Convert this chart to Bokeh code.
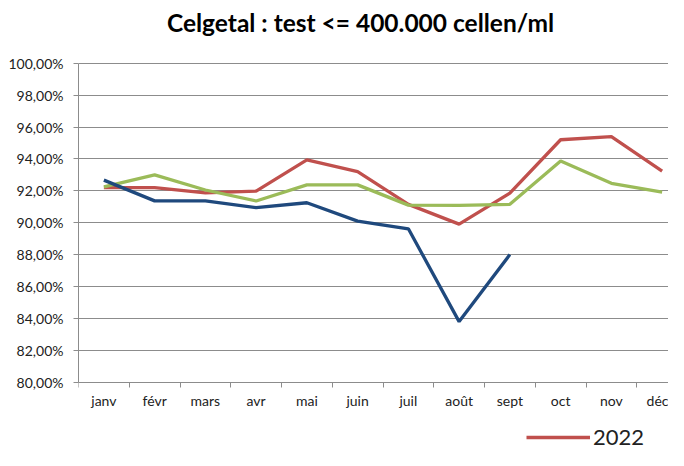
from bokeh.plotting import figure
from bokeh.models import FixedTicker, Legend, LegendItem, Range1d, Label
from bokeh.embed import file_html
from bokeh.resources import INLINE

months = ["janv", "févr", "mars", "avr", "mai", "juin", "juil", "août", "sept", "oct", "nov", "déc"]
vals_2022 = [92.20, 92.20, 91.87, 91.98, 93.94, 93.20, 91.15, 89.91, 91.85, 95.20, 95.40, 93.24]
vals_2023 = [92.25, 93.00, 92.05, 91.36, 92.37, 92.37, 91.10, 91.08, 91.15, 93.87, 92.47, 91.92]
vals_2024 = [92.67, 91.37, 91.37, 90.94, 91.25, 90.10, 89.62, 83.80, 88.00]
y_ticks = [80, 82, 84, 86, 88, 90, 92, 94, 96, 98, 100]
y_tick_labels = ["80,00%", "82,00%", "84,00%", "86,00%", "88,00%", "90,00%",
                 "92,00%", "94,00%", "96,00%", "98,00%", "100,00%"]
title_text = "Celgetal : test <= 400.000 cellen/ml"
legend_label = "2022"

RED = "#C0504D"
GREEN = "#9BBB59"
BLUE = "#1F497D"
GRID = "#8C8C8C"
FONT = "Lato"

W, H = 668, 450
LEFT = 78            # px: plot area left edge
TOP_PX = 62.7        # px: 100% line
BOT_PX = 381.7       # px: 80% line
CAT_PX = 50.75       # px per month
px_per_unit = (BOT_PX - TOP_PX) / (y_ticks[-1] - y_ticks[0])
y_lo = y_ticks[0] - (H - BOT_PX) / px_per_unit
y_hi = y_ticks[-1] + TOP_PX / px_per_unit
x_hi = -0.5 + (W - LEFT) / CAT_PX

x_idx = list(range(len(months)))

p = figure(width=W, height=H, output_backend="svg", toolbar_location=None,
           x_range=Range1d(-0.5, x_hi), y_range=Range1d(y_lo, y_hi),
           min_border_left=LEFT, min_border_right=0, min_border_top=0, min_border_bottom=0)
p.outline_line_color = None
p.background_fill_color = "white"
p.title.visible = False

r22 = p.line(x_idx, vals_2022, line_color=RED, line_width=3.3)
r23 = p.line(x_idx, vals_2023, line_color=GREEN, line_width=3.3)
r24 = p.line(x_idx[:len(vals_2024)], vals_2024, line_color=BLUE, line_width=3.3)

# title as text near the top
title_y = y_ticks[-1] + (TOP_PX - 22) / px_per_unit
title_x = -0.5 + (360 - LEFT) / CAT_PX
p.add_layout(Label(x=title_x, y=title_y, text=title_text, text_align="center",
                   text_baseline="alphabetic", text_font=FONT, text_font_style="bold",
                   text_font_size="24.5px", text_color="black"))

# grid
p.xgrid.visible = False
p.ygrid.ticker = FixedTicker(ticks=y_ticks)
p.ygrid.grid_line_color = GRID
p.ygrid.grid_line_width = 1

# y axis
p.yaxis.ticker = FixedTicker(ticks=y_ticks)
p.yaxis.bounds = (y_ticks[0], y_ticks[-1])
p.yaxis.major_label_overrides = {t: l for t, l in zip(y_ticks, y_tick_labels)}
p.yaxis.axis_line_color = GRID
p.yaxis.major_tick_line_color = GRID
p.yaxis.major_tick_out = 5
p.yaxis.major_tick_in = 0
p.yaxis.minor_tick_line_color = None
p.yaxis.major_label_standoff = 10
p.yaxis.major_label_text_font = FONT
p.yaxis.major_label_text_font_size = "14px"
p.yaxis.major_label_text_color = "#222222"

# x axis drawn at the 80% line
p.xaxis.fixed_location = y_ticks[0]
p.xaxis.ticker = FixedTicker(ticks=x_idx, minor_ticks=[i - 0.5 for i in range(len(months) + 1)])
p.xaxis.major_label_overrides = {i: m for i, m in enumerate(months)}
p.xaxis.axis_line_color = GRID
p.xaxis.major_tick_line_color = None
p.xaxis.major_tick_out = 0
p.xaxis.major_tick_in = 0
p.xaxis.minor_tick_line_color = GRID
p.xaxis.minor_tick_out = 5
p.xaxis.minor_tick_in = 0
p.xaxis.major_label_standoff = 5
p.xaxis.major_label_text_font = FONT
p.xaxis.major_label_text_font_size = "14px"
p.xaxis.major_label_text_color = "#222222"

legend = Legend(items=[LegendItem(label=legend_label, renderers=[r22])],
                location=(526 - LEFT, 0), orientation="horizontal",
                glyph_width=64, glyph_height=24, label_standoff=3, spacing=24,
                padding=0, margin=0, border_line_color=None, background_fill_alpha=0,
                label_text_font=FONT, label_text_font_size="22px", label_text_color="#222222",
                label_height=24)
p.add_layout(legend)

open("out.html", "w").write(file_html(p, INLINE))
